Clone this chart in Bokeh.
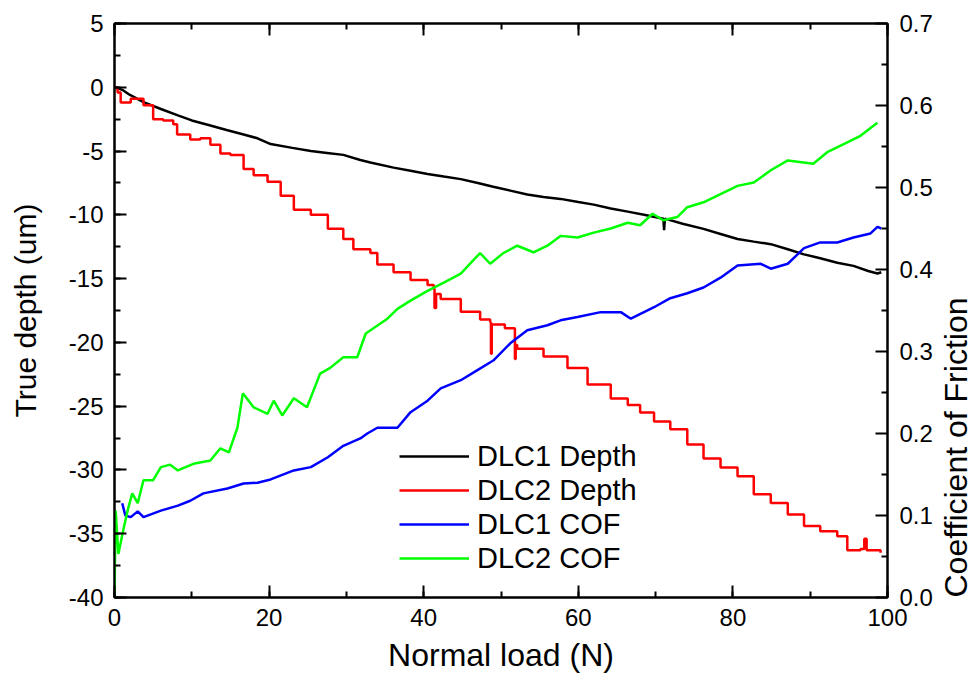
import math
from bokeh.plotting import figure
from bokeh.models import (Range1d, LinearAxis, SingleIntervalTicker, FixedTicker,
                          PrintfTickFormatter, Legend, LegendItem)
from bokeh.embed import file_html
from bokeh.resources import INLINE

# ---------------- data ----------------
dlc1_depth_load = [0, 1, 2, 3.75, 6, 8.2, 10, 12.4, 14.5, 16.7, 18.5, 20.2, 23, 25.4, 27.5,
                   29.6, 31.8, 33.1, 36.1, 38.3, 40.5, 42.6, 44.8, 47, 49.0, 51.2, 53.4, 55.5,
                   57.7, 60, 62.0, 64.2, 66.4, 68.5, 71.0, 71.1, 71.2, 73.5, 76.2, 78.4, 80.6,
                   82.7, 84.9, 87.1, 89.2, 91.3, 93.5, 95.6, 97.5, 98.7, 99.2]
dlc1_depth = [0, -0.2, -0.6, -1.17, -1.7, -2.2, -2.6, -3.0, -3.35, -3.7, -4.0, -4.45, -4.75,
              -5.0, -5.15, -5.3, -5.7, -5.9, -6.3, -6.55, -6.8, -7.0, -7.2, -7.5, -7.8, -8.1,
              -8.4, -8.6, -8.75, -9.0, -9.2, -9.5, -9.75, -10.0, -10.3, -11.2, -10.3, -10.7,
              -11.1, -11.5, -11.9, -12.1, -12.3, -12.7, -13.1, -13.4, -13.75, -14.0, -14.4,
              -14.6, -14.5]

dlc2_depth_load = [0, 0.4, 0.8, 2.1, 3.75, 5.0, 6.3, 7.6, 8.1, 9.8, 11.1, 12.4, 13.7, 15.0,
                   16.7, 18.0, 19.8, 21.5, 23.2, 25.4, 27.6, 29.6, 30.9, 33.1, 34.0, 36.1,
                   38.3, 40.5, 41.3, 41.4, 41.6, 42.2, 44.8, 47.3, 48.6, 48.7, 48.8, 50.5,
                   51.7, 51.8, 51.9, 52.1, 55.5, 58.6, 61.2, 64.2, 66.4, 68.0, 69.8, 71.9,
                   74.1, 76.2, 78.4, 80.6, 82.7, 84.9, 87.1, 89.2, 91.3, 93.5, 94.8, 96.5,
                   97.0, 97.3, 99.1]
dlc2_depth = [0, -0.4, -1.2, -0.9, -1.4, -2.5, -2.6, -2.9, -3.7, -4.1, -4.0, -4.5, -5.2,
              -5.3, -6.4, -6.9, -7.4, -8.5, -9.6, -10.0, -11.1, -11.9, -12.7, -13.0, -13.9,
              -14.5, -15.1, -15.5, -15.8, -17.3, -16.2, -16.6, -17.6, -18.2, -18.4, -20.9,
              -18.6, -18.9, -18.9, -21.3, -20.2, -20.5, -21.1, -22.0, -23.3, -24.4, -24.9,
              -25.5, -26.2, -26.8, -28.0, -29.1, -29.8, -30.5, -31.9, -32.6, -33.5, -34.4,
              -34.8, -35.2, -36.3, -36.2, -35.4, -36.3, -36.5]

dlc1_cof_load = [1.0, 1.4, 2.1, 3.0, 3.75, 6.0, 8.2, 9.8, 11.5, 14.6, 16.7, 18.5, 20.2, 23.2,
                 25.4, 27.6, 29.6, 31.8, 32.7, 34.0, 36.6, 38.3, 40.5, 42.2, 44.8, 46.9, 49.0,
                 51.2, 53.4, 56.0, 57.7, 59.9, 62.9, 65.5, 66.8, 69.8, 71.9, 74.1, 76.2, 78.4,
                 80.6, 83.6, 84.9, 87.1, 89.2, 91.3, 93.5, 95.6, 97.8, 98.7, 99.2]
dlc1_cof = [0.115, 0.100, 0.098, 0.105, 0.098, 0.106, 0.112, 0.118, 0.127, 0.133, 0.139,
            0.140, 0.144, 0.155, 0.159, 0.171, 0.185, 0.194, 0.200, 0.207, 0.207, 0.226,
            0.240, 0.255, 0.265, 0.277, 0.289, 0.310, 0.326, 0.332, 0.338, 0.342, 0.348,
            0.348, 0.340, 0.354, 0.365, 0.371, 0.378, 0.390, 0.405, 0.407, 0.401, 0.407,
            0.426, 0.433, 0.433, 0.439, 0.444, 0.452, 0.450]

dlc2_cof_load = [0.0, 0.15, 0.5, 1.2, 1.8, 2.3, 3.0, 3.75, 5.0, 6.0, 7.2, 8.2, 10.2, 12.4,
                 13.7, 14.8, 15.9, 16.6, 18.0, 19.8, 20.6, 21.7, 23.2, 24.9, 26.6, 27.9,
                 29.6, 31.4, 32.5, 35.3, 36.6, 38.3, 40.5, 42.6, 44.8, 46.4, 47.3, 48.6,
                 50.3, 52.1, 54.2, 56.0, 57.7, 59.9, 62.0, 64.2, 66.4, 68.0, 69.6, 71.0,
                 72.8, 74.1, 76.2, 78.4, 80.6, 82.7, 84.9, 87.1, 90.4, 92.2, 94.8, 96.5, 98.7]
dlc2_cof = [0.0, 0.106, 0.053, 0.085, 0.110, 0.127, 0.115, 0.143, 0.143, 0.159, 0.162,
            0.155, 0.163, 0.167, 0.182, 0.177, 0.207, 0.249, 0.232, 0.224, 0.240, 0.222,
            0.243, 0.232, 0.273, 0.280, 0.293, 0.293, 0.322, 0.340, 0.352, 0.362, 0.374,
            0.384, 0.395, 0.411, 0.420, 0.407, 0.420, 0.429, 0.421, 0.429, 0.441, 0.439,
            0.445, 0.450, 0.457, 0.454, 0.468, 0.460, 0.464, 0.476, 0.482, 0.492, 0.502,
            0.506, 0.521, 0.533, 0.529, 0.543, 0.555, 0.563, 0.579]

cof_ticks = [0.0, 0.1, 0.2, 0.3, 0.4, 0.5, 0.6, 0.7]
cof_minor_ticks = [0.05, 0.15, 0.25, 0.35, 0.45, 0.55, 0.65]

series_names = ["DLC1 Depth", "DLC2 Depth", "DLC1 COF", "DLC2 COF"]
x_label = "Normal load (N)"
y_label = "True depth (um)"
y2_label = "Coefficient of Friction"

FONT = "Liberation Sans"

p = figure(width=974, height=681, frame_width=773, frame_height=574,
           output_backend="svg", toolbar_location=None,
           x_range=Range1d(0, 100), y_range=Range1d(-40, 5),
           min_border_left=114, min_border_right=87, min_border_top=23, min_border_bottom=84,
           x_axis_label=x_label, y_axis_label=y_label)
p.extra_y_ranges = {"cof": Range1d(0, 0.7)}
p.grid.visible = False
p.outline_line_color = "black"
p.outline_line_width = 2
p.background_fill_color = "white"
p.border_fill_color = "white"


def style_axis(ax, font_size="24px", label_size="30px"):
    ax.axis_line_width = 2
    ax.axis_line_color = "black"
    ax.major_tick_in = 12
    ax.major_tick_out = 0
    ax.minor_tick_in = 6
    ax.minor_tick_out = 0
    ax.major_tick_line_width = 2
    ax.minor_tick_line_width = 2
    ax.major_label_text_font = FONT
    ax.major_label_text_font_size = font_size
    ax.major_label_text_color = "black"
    ax.axis_label_text_font = FONT
    ax.axis_label_text_font_size = label_size
    ax.axis_label_text_font_style = "normal"
    ax.axis_label_text_color = "black"


xa = p.xaxis[0]
xa.ticker = SingleIntervalTicker(interval=20, num_minor_ticks=2)
xa.formatter = PrintfTickFormatter(format="%d")
style_axis(xa, label_size="32px")
xa.major_label_standoff = 11
xa.axis_label_standoff = 8

ya = p.yaxis[0]
ya.ticker = SingleIntervalTicker(interval=5, num_minor_ticks=2)
ya.formatter = PrintfTickFormatter(format="%d")
style_axis(ya, label_size="30px")
ya.major_label_standoff = 11
ya.axis_label_standoff = 24

top = LinearAxis(ticker=SingleIntervalTicker(interval=20, num_minor_ticks=2))
style_axis(top, "1px")
top.major_label_text_color = None
top.major_label_standoff = 0
p.add_layout(top, "above")

right = LinearAxis(y_range_name="cof", axis_label=y2_label,
                   ticker=FixedTicker(ticks=cof_ticks, minor_ticks=cof_minor_ticks),
                   formatter=PrintfTickFormatter(format="%.1f"))
style_axis(right, label_size="32px")
right.major_label_standoff = 12
right.axis_label_standoff = 20
right.axis_label_orientation = math.pi / 2   # read bottom-to-top like the left title
try:
    right.axis_label_align = "start"
except Exception:
    pass
p.add_layout(right, "right")

LW = 2.5
r1 = p.line(dlc1_depth_load, dlc1_depth, line_color="black", line_width=LW)
r2 = p.step(dlc2_depth_load, dlc2_depth, line_color="#ff0000", line_width=LW, mode="after")
r3 = p.line(dlc1_cof_load, dlc1_cof, line_color="#0000ff", line_width=LW, y_range_name="cof")
r4 = p.line(dlc2_cof_load, dlc2_cof, line_color="#00ff00", line_width=LW, y_range_name="cof")

legend = Legend(items=[LegendItem(label=n, renderers=[r]) for n, r in
                       zip(series_names, [r1, r2, r3, r4])],
                location=(285, 22), orientation="vertical")
legend.border_line_color = None
legend.background_fill_alpha = 0
legend.margin = 0
legend.padding = 0
legend.spacing = 0
legend.glyph_width = 70
legend.glyph_height = 34
legend.label_height = 34
legend.label_standoff = 8
legend.label_text_font = FONT
legend.label_text_font_size = "29px"
legend.label_text_color = "black"
p.add_layout(legend, "center")

open("out.html", "w").write(file_html(p, INLINE))
